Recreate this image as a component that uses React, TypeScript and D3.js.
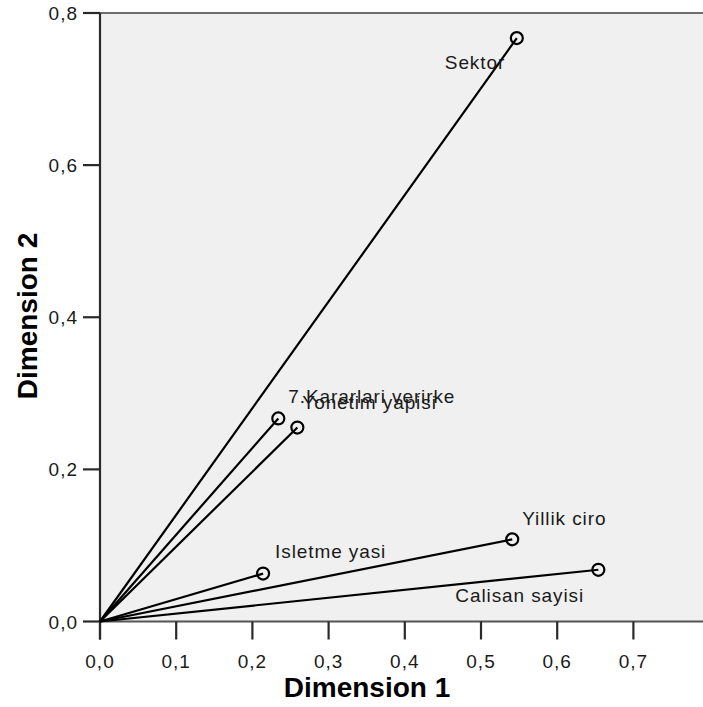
import React, { useEffect, useRef } from 'react';
import * as d3 from 'd3';

// variables (biplot / component loadings)
const variables = ['Sektor', '7.Kararlari verirke', 'Yonetim yapisi', 'Isletme yasi', 'Yillik ciro', 'Calisan sayisi'];
const dim1 = [0.547, 0.234, 0.259, 0.214, 0.541, 0.654];
const dim2 = [0.767, 0.267, 0.255, 0.063, 0.108, 0.068];

const xTicks = [0, 0.1, 0.2, 0.3, 0.4, 0.5, 0.6, 0.7];
const yTicks = [0, 0.2, 0.4, 0.6, 0.8];

// label nudges in pixels, like SPSS places them
const labelDx = [-72, 10, 5, 12, 10, -143];
const labelDy = [31, -15, -19, -16, -14, 32];

const fmt = (v: number) => v.toFixed(1).replace('.', ',');

export default function App() {
    const ref = useRef<SVGSVGElement>(null);

    useEffect(() => {
        const svg = d3.select(ref.current);
        svg.selectAll('*').remove();

        const left = 100, top = 13, bottom = 621.5;
        const x = d3.scaleLinear().domain([0, 0.1]).range([left, left + 76.2]);
        const y = d3.scaleLinear().domain([0, 0.8]).range([bottom, top]);
        const font = 'Liberation Sans, Arial, sans-serif';

        // plot background
        svg.append('rect')
            .attr('x', left).attr('y', top)
            .attr('width', 720 - left).attr('height', bottom - top)
            .attr('fill', '#f0f0f0');

        svg.append('line')
            .attr('x1', left).attr('x2', 720)
            .attr('y1', top).attr('y2', top)
            .attr('stroke', '#6e6e6e').attr('stroke-width', 2);

        // axes
        const ax = svg.append('g').attr('stroke', '#2a2a2a').attr('stroke-width', 2.2);
        ax.append('line').attr('x1', left).attr('x2', 720).attr('y1', bottom).attr('y2', bottom).attr('stroke', '#555');
        ax.append('line').attr('x1', left).attr('x2', left).attr('y1', top).attr('y2', bottom + 18);
        ax.selectAll('.yt').data(yTicks).enter().append('line')
            .attr('x1', left - 17).attr('x2', left)
            .attr('y1', d => y(d)).attr('y2', d => y(d));
        ax.selectAll('.xt').data(xTicks).enter().append('line')
            .attr('x1', d => x(d)).attr('x2', d => x(d))
            .attr('y1', bottom).attr('y2', bottom + 18);

        svg.selectAll('.ylab').data(yTicks).enter().append('text')
            .attr('x', left - 22).attr('y', d => y(d) + 7)
            .attr('text-anchor', 'end')
            .attr('font-family', font).attr('font-size', 19).attr('letter-spacing', 1)
            .attr('fill', '#1a1a1a')
            .text(d => fmt(d));

        svg.selectAll('.xlab').data(xTicks).enter().append('text')
            .attr('x', d => x(d)).attr('y', bottom + 46)
            .attr('text-anchor', 'middle')
            .attr('font-family', font).attr('font-size', 19).attr('letter-spacing', 1)
            .attr('fill', '#1a1a1a')
            .text(d => fmt(d));

        // vectors
        const g = svg.append('g');
        g.selectAll('.vec').data(variables).enter().append('line')
            .attr('x1', x(0)).attr('y1', y(0))
            .attr('x2', (_, i) => x(dim1[i])).attr('y2', (_, i) => y(dim2[i]))
            .attr('stroke', '#000').attr('stroke-width', 2.2);

        g.selectAll('circle').data(variables).enter().append('circle')
            .attr('cx', (_, i) => x(dim1[i])).attr('cy', (_, i) => y(dim2[i]))
            .attr('r', 6)
            .attr('fill', 'none').attr('stroke', '#000').attr('stroke-width', 2.2);

        g.selectAll('.lab').data(variables).enter().append('text')
            .attr('x', (_, i) => x(dim1[i]) + labelDx[i])
            .attr('y', (_, i) => y(dim2[i]) + labelDy[i])
            .attr('font-family', font).attr('font-size', 19).attr('letter-spacing', 0.9)
            .attr('fill', '#1a1a1a')
            .text(d => d);

        // axis titles
        svg.append('text')
            .attr('x', 367).attr('y', 697)
            .attr('text-anchor', 'middle')
            .attr('font-family', font).attr('font-size', 28).attr('font-weight', 'bold')
            .attr('fill', '#000')
            .text('Dimension 1');

        svg.append('text')
            .attr('transform', 'translate(37,316) rotate(-90)')
            .attr('text-anchor', 'middle')
            .attr('font-family', font).attr('font-size', 28).attr('font-weight', 'bold')
            .attr('fill', '#000')
            .text('Dimension 2');
    }, []);

    return (
        <div style={{ position: 'absolute', left: 0, top: 0 }}>
            <svg ref={ref} width={703} height={707} style={{ display: 'block', background: '#fff' }} />
        </div>
    );
}
